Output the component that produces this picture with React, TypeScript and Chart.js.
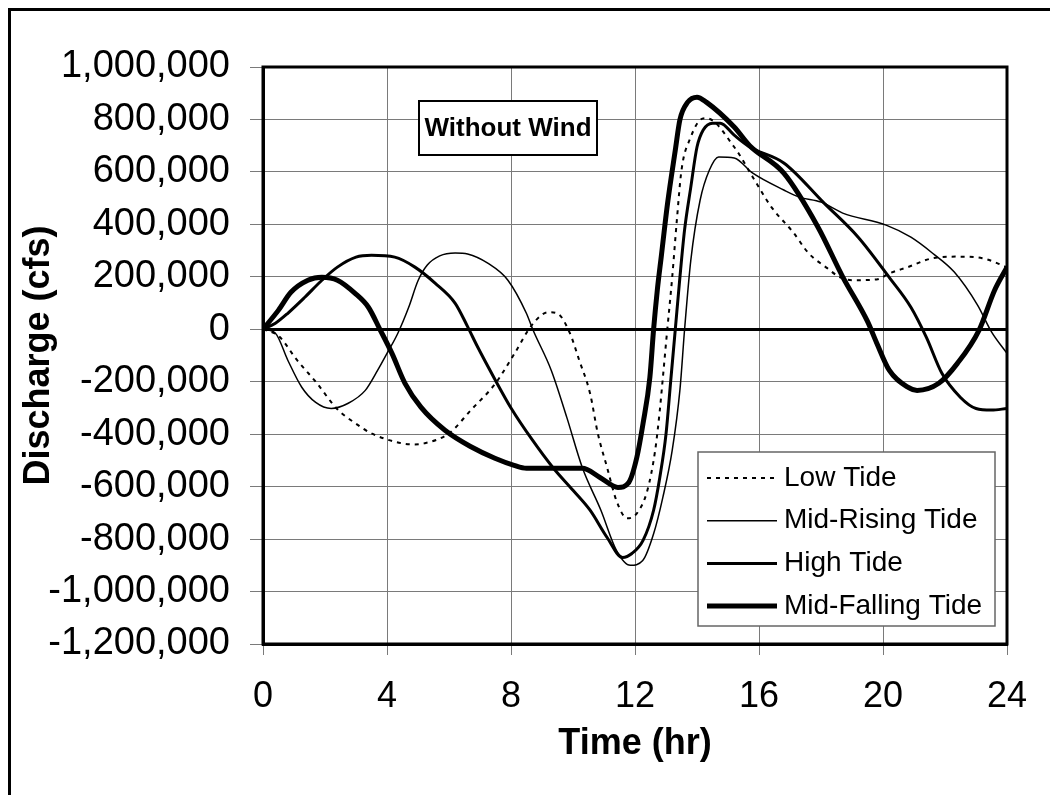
import React, { useEffect, useRef } from "react";
import { Chart, registerables } from "chart.js";

Chart.register(...registerables);

// ---- Data (discharge in thousands of cfs, time in hours) ----
const seriesNames = ["Low Tide", "Mid-Rising Tide", "High Tide", "Mid-Falling Tide"];

const lowTideHours = [0, 0.5, 1.1, 1.7, 2.4, 3.0, 3.5, 4.3, 4.8, 5.2, 6.0, 6.7, 7.5, 8.1, 8.7, 9.2, 9.5, 9.9, 10.2, 10.55, 10.8, 11.1, 11.4, 11.75, 12.06, 12.4, 12.65, 12.8, 12.9, 13.03, 13.2, 13.35, 13.5, 13.8, 14.1, 14.3, 15.2, 15.8, 16.4, 17.1, 17.6, 18.2, 18.6, 19.0, 19.8, 20.2, 20.8, 21.6, 22.4, 23.2, 24];
const lowTideK = [0, -25, -118, -200, -305, -360, -397, -430, -439, -435, -397, -309, -206, -95, 20, 65, 60, -15, -118, -244, -397, -527, -653, -721, -702, -614, -462, -309, -183, -15, 198, 416, 607, 733, 798, 805, 695, 580, 466, 370, 290, 233, 199, 187, 190, 213, 237, 271, 277, 271, 237];

const midRisingHours = [0, 0.4, 0.8, 1.25, 1.7, 2.2, 2.75, 3.3, 3.7, 4.0, 4.35, 4.7, 5.0, 5.3, 5.7, 6.2, 6.6, 7.25, 7.9, 8.5, 8.7, 9.3, 9.8, 10.3, 10.9, 11.4, 11.85, 12.25, 12.6, 12.9, 13.2, 13.45, 13.6, 13.8, 14.1, 14.4, 14.7, 15.2, 15.8, 16.8, 17.3, 18.0, 18.7, 20.1, 20.9, 21.6, 22.3, 23.05, 23.5, 24];
const midRisingK = [0, -15, -118, -221, -279, -302, -282, -233, -156, -92, -15, 84, 185, 245, 280, 291, 287, 252, 187, 60, 0, -157, -336, -527, -690, -843, -900, -882, -780, -640, -462, -230, 0, 263, 492, 607, 657, 653, 595, 531, 504, 485, 443, 397, 351, 290, 218, 92, -10, -92];

const highTideHours = [0, 0.4, 0.8, 1.35, 1.9, 2.4, 3.0, 3.5, 4.25, 4.9, 5.55, 6.2, 6.6, 6.9, 7.5, 8.0, 8.7, 9.35, 10.0, 10.55, 11.1, 11.6, 11.9, 12.26, 12.6, 12.8, 13.0, 13.15, 13.3, 13.45, 13.6, 13.8, 14.0, 14.2, 14.5, 14.75, 15.2, 15.7, 16.8, 18.1, 19.2, 20.2, 20.9, 21.4, 21.9, 22.5, 23.0, 23.5, 24];
const highTideK = [0, 23, 61, 122, 187, 237, 275, 282, 275, 237, 176, 99, 10, -62, -195, -300, -424, -527, -614, -690, -794, -870, -855, -805, -690, -565, -400, -200, 0, 200, 380, 542, 695, 760, 786, 786, 740, 695, 634, 481, 351, 198, 84, -31, -168, -260, -302, -308, -302];

const midFallingHours = [0, 0.5, 0.9, 1.45, 1.9, 2.4, 2.97, 3.4, 3.77, 4.16, 4.58, 5.1, 5.87, 6.74, 7.48, 8.1, 8.5, 9.36, 10.3, 10.87, 11.45, 11.8, 12.06, 12.26, 12.48, 12.6, 12.72, 12.85, 13.05, 13.3, 13.45, 13.7, 14.0, 14.3, 15.2, 15.7, 16.8, 17.9, 18.7, 19.5, 19.8, 20.2, 20.8, 21.1, 21.8, 22.4, 23.1, 23.6, 24];
const midFallingK = [0, 73, 141, 187, 198, 187, 137, 84, 0, -92, -206, -298, -385, -450, -492, -519, -530, -530, -530, -565, -603, -584, -488, -359, -183, 0, 150, 280, 480, 683, 800, 866, 885, 866, 771, 700, 595, 390, 200, 30, -53, -156, -221, -233, -206, -130, -3, 149, 237];

const xTickStep = 4;
const xMin = 0;
const xMax = 24;
const yMin = -1200000;
const yMax = 1000000;
const yTickStep = 200000;

const xTitle = "Time (hr)";
const yTitle = "Discharge (cfs)";
const noteText = "Without Wind";

const FONT = "'Liberation Sans', Arial, Helvetica, sans-serif";

function toPoints(hours: number[], valuesK: number[]) {
  return hours.map((h, i) => ({ x: h, y: valuesK[i] * 1000 }));
}

const overlayPlugin = {
  id: "overlay",
  afterDatasetsDraw(chart: any) {
    const { ctx, chartArea: a } = chart;
    ctx.save();
    ctx.strokeStyle = "#000";
    ctx.lineWidth = 3;
    ctx.strokeRect(a.left, a.top, a.right - a.left, a.bottom - a.top);
    ctx.restore();
  },
  afterDraw(chart: any) {
    const { ctx, chartArea: a } = chart;
    ctx.save();
    // "Without Wind" note box
    const nx = a.left + 156, ny = a.top + 34, nw = 178, nh = 54;
    ctx.fillStyle = "#fff";
    ctx.fillRect(nx, ny, nw, nh);
    ctx.strokeStyle = "#000";
    ctx.lineWidth = 2;
    ctx.strokeRect(nx, ny, nw, nh);
    ctx.fillStyle = "#000";
    ctx.font = `bold 26px ${FONT}`;
    ctx.textAlign = "center";
    ctx.textBaseline = "middle";
    ctx.fillText(noteText, nx + nw / 2, ny + nh / 2 + 1);

    // Legend box
    const lx = a.right - 309, ly = a.top + 385, lw = 297, lh = 174;
    ctx.fillStyle = "#fff";
    ctx.fillRect(lx, ly, lw, lh);
    ctx.strokeStyle = "#666";
    ctx.lineWidth = 1.5;
    ctx.strokeRect(lx, ly, lw, lh);
    ctx.font = `28px ${FONT}`;
    ctx.textAlign = "left";
    ctx.textBaseline = "middle";
    chart.data.datasets.forEach((ds: any, i: number) => {
      const y = ly + 26 + i * 42.7;
      ctx.save();
      ctx.strokeStyle = "#000";
      ctx.lineWidth = ds.borderWidth;
      ctx.setLineDash(ds.borderDash || []);
      ctx.beginPath();
      ctx.moveTo(lx + 9, y);
      ctx.lineTo(lx + 79, y);
      ctx.stroke();
      ctx.restore();
      ctx.fillStyle = "#000";
      ctx.fillText(ds.label, lx + 86, y);
    });
    ctx.restore();
  },
};

export default function App() {
  const canvasRef = useRef<HTMLCanvasElement | null>(null);

  useEffect(() => {
    if (!canvasRef.current) return;
    const common = { pointRadius: 0, borderColor: "#000", fill: false, cubicInterpolationMode: "monotone" as const };
    const chart = new Chart(canvasRef.current, {
      type: "line",
      data: {
        datasets: [
          { ...common, label: seriesNames[0], data: toPoints(lowTideHours, lowTideK), borderWidth: 2, borderDash: [4, 5] },
          { ...common, label: seriesNames[1], data: toPoints(midRisingHours, midRisingK), borderWidth: 1.5 },
          { ...common, label: seriesNames[2], data: toPoints(highTideHours, highTideK), borderWidth: 3 },
          { ...common, label: seriesNames[3], data: toPoints(midFallingHours, midFallingK), borderWidth: 5 },
        ] as any,
      },
      options: {
        animation: false,
        responsive: false,
        layout: { padding: { left: 0, top: 67, right: 43, bottom: 0 } },
        plugins: { legend: { display: false }, tooltip: { enabled: false } },
        scales: {
          x: {
            type: "linear",
            min: xMin,
            max: xMax,
            afterFit: (s: any) => { s.height = 151; },
            ticks: { stepSize: xTickStep, color: "#000", font: { family: FONT, size: 36 }, padding: 20, maxRotation: 0 },
            grid: { color: "#7a7a7a", lineWidth: 1, tickLength: 11, tickColor: "#7a7a7a", tickWidth: 1 },
            border: { color: "#000", width: 3 },
            title: { display: true, text: xTitle, color: "#000", font: { family: FONT, size: 36, weight: "bold" }, padding: { top: 0, bottom: 29 } },
          },
          y: {
            min: yMin,
            max: yMax,
            afterFit: (s: any) => { s.width = 263; },
            ticks: {
              stepSize: yTickStep,
              color: "#000",
              font: { family: FONT, size: 38 },
              padding: 20,
              callback: (v: any) => Number(v).toLocaleString("en-US"),
            },
            grid: {
              color: (c: any) => (c.tick && c.tick.value === 0 ? "#000" : "#7a7a7a"),
              lineWidth: (c: any) => (c.tick && c.tick.value === 0 ? 3 : 1),
              tickLength: 13,
              tickColor: "#7a7a7a",
              tickWidth: 1,
            },
            border: { color: "#000", width: 3 },
            title: { display: true, text: yTitle, color: "#000", font: { family: FONT, size: 36, weight: "bold" }, padding: { top: 17, bottom: 0 } },
          },
        },
      } as any,
      plugins: [overlayPlugin],
    });
    return () => chart.destroy();
  }, []);

  return (
    <div style={{ position: "fixed", left: 0, top: 0, width: 1050, height: 795, overflow: "hidden", background: "#fff" }}>
      <div style={{ position: "absolute", left: 8, top: 8, width: 1100, height: 900, borderTop: "3px solid #000", borderLeft: "3px solid #000" }} />
      <canvas ref={canvasRef} width={1050} height={795} style={{ position: "absolute", left: 0, top: 0 }} />
    </div>
  );
}
